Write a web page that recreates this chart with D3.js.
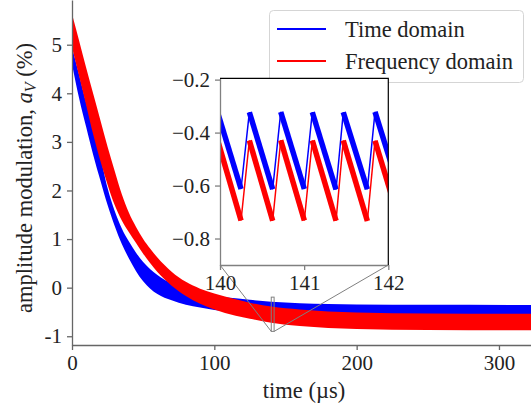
<!DOCTYPE html>
<html>
<head>
<meta charset="utf-8">
<script src="https://cdn.jsdelivr.net/npm/d3@7/dist/d3.min.js"></script>
<style>
  body { margin: 0; background: #fff; }
  text { font-family: "Liberation Serif", "Times New Roman", serif; fill: #222; }
</style>
</head>
<body>
<script>
// ENVELOPE OF THE FAST OSCILLATION (time in µs, a_V in %)
var time      = [0, 5, 10, 15, 20, 25, 30, 35, 40, 45, 50, 55, 60, 70, 80, 90, 100, 115, 125, 140, 160, 180, 200, 250, 325]
var blueUpper = [4.95, 4.38, 3.8, 3.26, 2.7, 2.05, 1.58, 1.22, 0.95, 0.72, 0.53, 0.38, 0.26, 0.08, -0.04, -0.12, -0.17, -0.22, -0.25, -0.29, -0.32, -0.335, -0.345, -0.352, -0.356]
var blueLower = [4.6, 3.9, 3.3, 2.72, 2.2, 1.7, 1.27, 0.9, 0.6, 0.34, 0.13, -0.02, -0.13, -0.26, -0.35, -0.41, -0.46, -0.51, -0.54, -0.58, -0.61, -0.63, -0.645, -0.655, -0.66]
var redUpper  = [5.63, 5.08, 4.52, 3.98, 3.44, 2.9, 2.4, 1.92, 1.54, 1.25, 1.0, 0.8, 0.62, 0.33, 0.12, -0.02, -0.12, -0.24, -0.31, -0.39, -0.45, -0.49, -0.51, -0.53, -0.535]
var redLower  = [4.95, 4.35, 3.75, 3.14, 2.6, 2.12, 1.7, 1.38, 1.14, 0.92, 0.7, 0.5, 0.32, 0.04, -0.17, -0.33, -0.45, -0.58, -0.64, -0.72, -0.79, -0.83, -0.85, -0.87, -0.875]

// SAWTOOTH VERTICES IN THE ZOOMED INSET (peak, trough, peak, ...)
var insetTime = [139.973, 140.250, 140.349, 140.626, 140.722, 141.002, 141.097, 141.379, 141.465, 141.751, 141.842, 142.127]
var blueInset = [-0.325, -0.613, -0.323, -0.614, -0.322, -0.613, -0.323, -0.615, -0.323, -0.614, -0.322, -0.612]
var redInset  = [-0.430, -0.732, -0.430, -0.733, -0.429, -0.732, -0.430, -0.733, -0.430, -0.734, -0.431, -0.730]

var xTicks = [0, 100, 200, 300]
var yTicks = [-1, 0, 1, 2, 3, 4, 5]
var insetXTicks = [140, 141, 142]
var insetYTicks = [-0.8, -0.6, -0.4, -0.2]
var legendLabels = ['Time domain', 'Frequency domain']
var colors = ['#0000ff', '#ff0000']

var w = 531
var h = 409

var svg = d3.select('body')
            .append('svg')
            .attr('width', w)
            .attr('height', h)

var x = d3.scaleLinear()
        .domain([0, 322.5])
        .range([72, 531])

var y = d3.scaleLinear()
        .domain([-1.18, 5.92])
        .range([345, 0])

var defs = svg.append('defs')
defs.append('clipPath').attr('id', 'mainClip')
    .append('rect').attr('x', 72).attr('y', 0).attr('width', w - 72).attr('height', 345)

// BANDS
var series = [
  { upper: blueUpper, lower: blueLower, color: colors[0] },
  { upper: redUpper, lower: redLower, color: colors[1] }
]

var band = function (s) {
  return d3.area()
    .x(function (d, i) { return x(time[i]) })
    .y0(function (d, i) { return y(s.lower[i]) })
    .y1(function (d, i) { return y(s.upper[i]) })
    .curve(d3.curveMonotoneX)(time)
}

var main = svg.append('g').attr('clip-path', 'url(#mainClip)')
main.selectAll('.band')
    .data(series)
    .enter()
      .append('path')
      .classed('band', true)
      .attr('d', band)
      .attr('fill', function (d) { return d.color })

// MAIN AXES
var axisColor = '#666'

var xAxis = svg.append('g')
    .attr('transform', 'translate(0,345)')
    .call(d3.axisBottom(x).tickValues(xTicks).tickSize(5).tickSizeOuter(0).tickPadding(5))
var yAxis = svg.append('g')
    .attr('transform', 'translate(72,0)')
    .call(d3.axisLeft(y).tickValues(yTicks).tickSize(5).tickSizeOuter(0).tickPadding(5)
      .tickFormat(function (d) { return d < 0 ? '-' + Math.abs(d) : d }))

svg.selectAll('.domain, .tick line').attr('stroke', axisColor).attr('stroke-width', 1.3)
svg.selectAll('.tick text').attr('font-size', 21).attr('font-family', null).attr('fill', '#222')

svg.append('text')
    .attr('x', 304)
    .attr('y', 398)
    .attr('text-anchor', 'middle')
    .attr('font-size', 22.5)
    .text('time (µs)')

var ylab = svg.append('text')
    .attr('transform', 'translate(32,178) rotate(-90)')
    .attr('text-anchor', 'middle')
    .attr('font-size', 22.5)
ylab.append('tspan').text('amplitude modulation, ')
ylab.append('tspan').attr('font-style', 'italic').text('a')
ylab.append('tspan').attr('font-style', 'italic').attr('font-size', 16).attr('dy', 4).text('V')
ylab.append('tspan').attr('dy', -4).text(' (%)')

// INSET MARKER ON THE MAIN PANEL
var ix = d3.scaleLinear().domain([140, 142]).range([220, 388.3])
var iy = d3.scaleLinear().domain([-0.9, -0.195]).range([265, 78.3])

svg.append('rect')
    .attr('x', x(140))
    .attr('y', y(-0.195))
    .attr('width', x(142) - x(140))
    .attr('height', y(-0.9) - y(-0.195))
    .attr('fill', 'none')
    .attr('stroke', '#808080')
    .attr('stroke-width', 1)

svg.selectAll('.connector')
    .data([140, 142])
    .enter()
      .append('line')
      .classed('connector', true)
      .attr('x1', function (d) { return ix(d) })
      .attr('y1', iy(-0.9))
      .attr('x2', function (d) { return x(d) })
      .attr('y2', y(-0.9))
      .attr('stroke', '#808080')
      .attr('stroke-width', 1)

// LEGEND
var legend = svg.append('g')
legend.append('rect')
    .attr('x', 269.5)
    .attr('y', 10.5)
    .attr('width', 254)
    .attr('height', 72)
    .attr('rx', 4)
    .attr('fill', '#fff')
    .attr('fill-opacity', 0.8)
    .attr('stroke', '#d5d5d5')

var items = legend.selectAll('.item')
    .data(legendLabels)
    .enter()
      .append('g')
      .attr('transform', function (d, i) { return 'translate(0,' + (29 + i * 32) + ')' })
items.append('line')
    .attr('x1', 277).attr('x2', 326)
    .attr('stroke', function (d, i) { return colors[i] })
    .attr('stroke-width', 2)
items.append('text')
    .attr('x', 345)
    .attr('y', 7.5)
    .attr('font-size', 22.5)
    .text(function (d) { return d })

// INSET
var inset = svg.append('g')
inset.append('rect')
    .attr('x', 220).attr('y', 78.3)
    .attr('width', 388.3 - 220).attr('height', 265 - 78.3)
    .attr('fill', '#fff')
defs.append('clipPath').attr('id', 'insetClip')
    .append('rect').attr('x', 220).attr('y', 78.3).attr('width', 388.3 - 220).attr('height', 265 - 78.3)

var plot = inset.append('g').attr('clip-path', 'url(#insetClip)')
var insetSeries = [blueInset, redInset]
insetSeries.forEach(function (vals, k) {
  var line = d3.line()
    .x(function (d, i) { return ix(insetTime[i]) })
    .y(function (d) { return iy(d) })
  // thin trace through all vertices
  plot.append('path')
      .attr('d', line(vals))
      .attr('fill', 'none')
      .attr('stroke', colors[k])
      .attr('stroke-width', 1.5)
  // falling ramps look thick (fast ripple), draw them wider
  var ramps = d3.range(0, vals.length - 1, 2)
  plot.selectAll('.ramp' + k)
      .data(ramps)
      .enter()
        .append('line')
        .attr('x1', function (i) { return ix(insetTime[i]) })
        .attr('y1', function (i) { return iy(vals[i]) })
        .attr('x2', function (i) { return ix(insetTime[i + 1]) })
        .attr('y2', function (i) { return iy(vals[i + 1]) })
        .attr('stroke', colors[k])
        .attr('stroke-width', 5.5)
})

var ixAxis = inset.append('g')
    .attr('transform', 'translate(0,265)')
    .call(d3.axisBottom(ix).tickValues(insetXTicks).tickSize(5).tickSizeOuter(0).tickPadding(5).tickFormat(d3.format('d')))
var iyAxis = inset.append('g')
    .attr('transform', 'translate(220,0)')
    .call(d3.axisLeft(iy).tickValues(insetYTicks).tickSize(5).tickSizeOuter(0).tickPadding(5).tickFormat(d3.format('.1f')))
inset.selectAll('.domain, .tick line').attr('stroke', '#808080').attr('stroke-width', 1.3)
inset.selectAll('.tick text').attr('font-size', 21).attr('font-family', null).attr('fill', '#222')

// top and right spines of the inset are black
inset.append('path')
    .attr('d', 'M220,78.3H388.3V265')
    .attr('fill', 'none')
    .attr('stroke', '#000')
    .attr('stroke-width', 1.2)
</script>
</body>
</html>
